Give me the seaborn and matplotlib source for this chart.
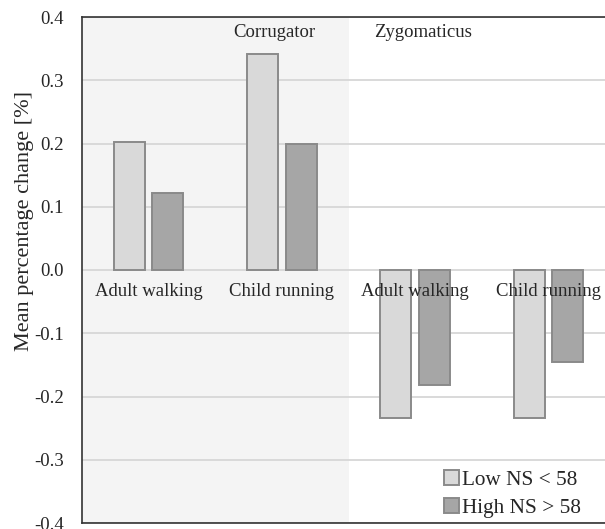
import pandas as pd
import seaborn as sns
import matplotlib.pyplot as plt

# Data
muscles = ["Corrugator", "Corrugator", "Zygomaticus", "Zygomaticus"]
tasks = ["Adult walking", "Child running", "Adult walking", "Child running"]
groups = ["Low NS < 58", "High NS > 58"]
low_ns = [0.202, 0.341, -0.234, -0.234]
high_ns = [0.122, 0.199, -0.182, -0.145]

y_ticks = [-0.4, -0.3, -0.2, -0.1, 0.0, 0.1, 0.2, 0.3, 0.4]
y_labels = ["-0.4", "-0.3", "-0.2", "-0.1", "0.0", "0.1", "0.2", "0.3", "0.4"]


def build_frame():
    """Long-format table: one row per bar."""
    rows = []
    for m, t, lo, hi in zip(muscles, tasks, low_ns, high_ns):
        key = m + " " + t
        rows.append({"pos": key, "group": groups[0], "value": lo})
        rows.append({"pos": key, "group": groups[1], "value": hi})
    return pd.DataFrame(rows)


def main():
    df = build_frame()
    order = [m + " " + t for m, t in zip(muscles, tasks)]

    sns.set_style("white")
    plt.rcParams["font.family"] = ["Liberation Serif", "DejaVu Serif"]
    plt.rcParams["text.color"] = "#262626"

    fig = plt.figure(figsize=(6.05, 5.29), dpi=100)
    # axes run past the right edge of the figure, like the cropped original
    ax = fig.add_axes([82 / 605, 6 / 529, 533 / 605, 506 / 529])

    # shaded Corrugator half
    ax.axvspan(-0.5, 1.5, color="#f4f4f4", zorder=0, lw=0)

    sns.barplot(data=df, x="pos", y="value", hue="group", order=order,
                hue_order=groups, palette=["#d9d9d9", "#a6a6a6"],
                width=0.58, gap=0.2, edgecolor="#8a8a8a", linewidth=1.4,
                errorbar=None, ax=ax, zorder=3)

    ax.set_xlim(-0.5, 3.5)
    ax.set_ylim(-0.4, 0.4)
    ax.set_yticks(y_ticks, labels=y_labels)
    ax.yaxis.grid(True, color="#d9d9d9", lw=1.4, zorder=1)
    ax.set_axisbelow(True)
    ax.tick_params(axis="y", length=0, pad=13, labelsize=13.5,
                   labelcolor="#262626")
    ax.set_ylabel("Mean percentage change [%]", fontsize=16,
                  color="#262626")
    ax.yaxis.set_label_coords(-0.09, 0.597)

    # category labels sit just under the zero line
    ax.set_xticks([])
    ax.set_xlabel("")
    for i, t in enumerate(tasks):
        ax.annotate(t, xy=(i, 0), xytext=(0, -9), textcoords="offset points",
                    ha="center", va="top", fontsize=13.5, color="#262626",
                    zorder=5)

    for side in ["left", "top", "bottom"]:
        ax.spines[side].set_color("#333333")
        ax.spines[side].set_linewidth(1.2)
    ax.spines["right"].set_visible(False)

    ax.text(1.5 - 0.56, 0.376, "Corrugator", ha="center", va="center",
            fontsize=13.5)
    ax.text(1.5 + 0.56, 0.376, "Zygomaticus", ha="center", va="center",
            fontsize=13.5)

    handles, labels = ax.get_legend_handles_labels()
    ax.legend(handles, labels, loc="lower right",
              bbox_to_anchor=(596 / 605, -4 / 529),
              bbox_transform=fig.transFigure, frameon=False,
              fontsize=15.3, handlelength=0.7, handleheight=0.7,
              handletextpad=0.15, labelspacing=0.4, borderpad=0.2)

    fig.savefig("out.png", dpi=100)


if __name__ == "__main__":
    main()
